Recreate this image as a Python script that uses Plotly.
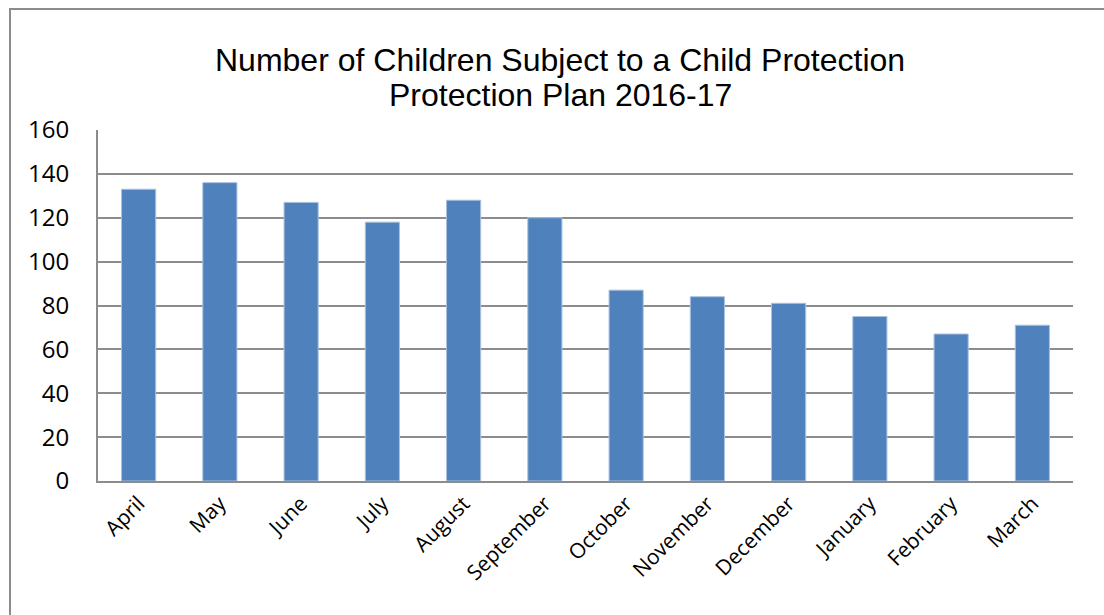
import plotly.graph_objects as go

# Monthly counts, April 2016 to March 2017
months = ["April", "May", "June", "July", "August", "September",
          "October", "November", "December", "January", "February", "March"]
children = [133, 136, 127, 118, 128, 120, 87, 84, 81, 75, 67, 71]

y_ticks = [0, 20, 40, 60, 80, 100, 120, 140, 160]

title_lines = ["Number of Children Subject to a Child Protection",
               "Protection Plan 2016-17"]

W, H = 1104, 615
L, R, T, B = 98, 31, 130, 134

fig = go.Figure(
    go.Bar(
        x=months,
        y=children,
        marker=dict(color="#4F81BD", line=dict(color="#A9C1E0", width=1)),
        hoverinfo="x+y",
    )
)

plot_w = W - L - R
plot_h = H - T - B


def px_to_paper_y(py):
    return (H - B - py) / plot_h


# two-line heading drawn as separate annotations for tight line spacing
title_annotations = [
    dict(
        text=line,
        xref="paper",
        yref="paper",
        x=(560 - L) / plot_w,
        y=px_to_paper_y(cy),
        xanchor="center",
        yanchor="middle",
        showarrow=False,
        font=dict(family="Liberation Sans, Arial, sans-serif", size=32, color="black"),
    )
    for line, cy in zip(title_lines, [60, 95])
]

fig.update_layout(
    width=W,
    height=H,
    margin=dict(l=L, r=R, t=T, b=B, autoexpand=False),
    paper_bgcolor="white",
    plot_bgcolor="white",
    bargap=0.58,
    showlegend=False,
    annotations=title_annotations,
    xaxis=dict(
        tickangle=-45,
        tickfont=dict(family="Open Sans, sans-serif", size=21, color="black"),
        showline=True,
        linecolor="#8c8c8c",
        linewidth=2,
        ticks="",
        showgrid=False,
    ),
    yaxis=dict(
        range=[0, 160],
        tickvals=y_ticks,
        tickfont=dict(family="Open Sans, sans-serif", size=24, color="black"),
        showline=True,
        linecolor="#8c8c8c",
        linewidth=2,
        gridcolor="#8c8c8c",
        gridwidth=2,
        zeroline=False,
        ticks="",
        ticklabelstandoff=22,
    ),
    shapes=[
        # outer chart frame
        dict(
            type="rect",
            xref="paper",
            yref="paper",
            x0=(10 - L) / plot_w,
            x1=(1120 - L) / plot_w,
            y0=-1.0,
            y1=px_to_paper_y(9),
            line=dict(color="#8c8c8c", width=2),
            fillcolor="rgba(0,0,0,0)",
            layer="below",
        )
    ],
)

fig.write_html("out.html")
